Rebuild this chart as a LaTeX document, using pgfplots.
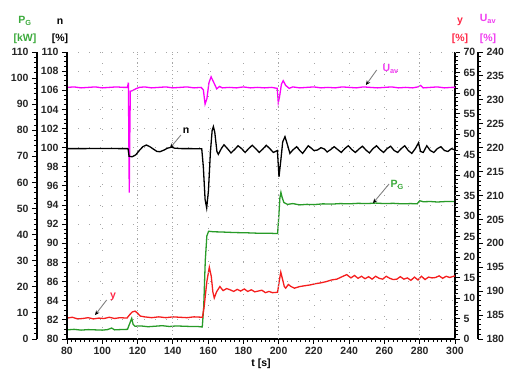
\documentclass[border=0pt]{standalone}
\usepackage{pgfplots}
\pgfplotsset{compat=1.18}
\usetikzlibrary{arrows.meta}
\usepackage{fontspec}
\setmainfont{Liberation Sans}
\definecolor{cPG}{RGB}{40,155,40}
\definecolor{cY}{RGB}{245,30,30}
\definecolor{cU}{RGB}{250,0,250}
\definecolor{cPGt}{RGB}{60,170,60}
\definecolor{cYt}{RGB}{255,40,70}
\definecolor{cUt}{RGB}{240,60,240}
\pgfplotsset{
  base/.style={
    scale only axis, width=388pt, height=287pt,
    at={(0pt,0pt)}, anchor=south west,
    xmin=80, xmax=300,
    tick align=outside,
    major tick length=5pt, minor tick length=3pt,
    every tick/.style={black, line width=0.9pt},
    tick label style={font=\fontsize{10.5}{12}\selectfont\bfseries, text=black!85},
    /pgf/number format/assume math mode=true,
    axis line style={-, line width=1.2pt},
    x axis line style={-}, y axis line style={-},
  },
}
\begin{document}
\begin{tikzpicture}
\useasboundingbox (-67pt,-35pt) rectangle (444pt,339pt);
% ---------- P_G axis ----------
\begin{axis}[base, ymin=0, ymax=110, ytick={0,10,...,110}, minor y tick num=4,
  axis y line*=left, axis y line shift=30pt, hide x axis]
\addplot[cPG, line width=1.3pt] coordinates {
(80,3.5) (84,3.7) (88,3.4) (92,3.6) (96,3.5) (100,3.4) (103,3.6) (105.3,4.2) (107,3.5) (110,3.6) (114.3,3.7) (115.3,5.5) (116.7,7.9) (117.5,5.6) (118.5,4.9) (122,5.0) (126,4.7) (130,4.9) (134,5.1) (138,4.8) (142,5.0) (146,4.9) (150,4.8) (154,4.8) (156.7,4.6) (157.5,12) (158.4,30) (159.3,39.5) (160.3,41.3) (163,41.1) (168,41.0) (175,40.8) (182,40.7) (190,40.5) (196,40.5) (199.4,40.4) (200.1,47) (200.7,54) (201.3,56.2) (202,54.2) (203,52.3) (205,51.6) (208,51.9) (212,51.4) (216,51.6) (220,51.5) (225,51.8) (230,51.7) (235,51.9) (240,51.8) (245,52.0) (250,51.9) (255,52.1) (260,51.9) (265,52.0) (270,51.8) (275,51.9) (278.5,51.8) (280,53.0) (282,52.6) (286,52.7) (290,52.5) (295,52.7) (300,52.7)
};
\end{axis}
% ---------- y axis ----------
\begin{axis}[base, ymin=0, ymax=70, ytick={0,5,...,70}, minor y tick num=4,
  axis y line*=right, hide x axis]
\addplot[cY, line width=1.3pt] coordinates {
(80,5.1) (83,5.3) (86,4.9) (89,5.0) (92,5.2) (95,4.9) (98,5.1) (101,5.0) (104,5.3) (107,5.0) (110,5.2) (114,5.1) (115.5,5.9) (117,6.6) (118.6,6.8) (120,6.3) (121.5,5.6) (124,5.4) (128,5.2) (132,5.4) (136,5.2) (140,5.4) (144,5.3) (148,5.2) (152,5.4) (156.8,5.3) (157.8,8) (159.3,14) (160.7,17.5) (161.8,15.3) (162.7,11.5) (163.5,10.0) (164.8,11.5) (166.7,12.8) (168.5,11.8) (170.5,12.3) (172.5,12.0) (174.5,11.6) (176.5,12.1) (178.5,11.7) (180.5,12.2) (182.5,11.6) (184.5,12.0) (186.5,11.5) (188.5,11.7) (190.5,11.9) (192.5,11.3) (194.5,11.6) (196.5,11.3) (199.4,11.4) (200.3,14) (201.2,16.3) (202.2,14.6) (203.2,12.8) (204,12.4) (205.5,13.3) (207,12.8) (209,12.4) (212,12.8) (215,13.0) (218,13.2) (221,13.5) (224,13.7) (227,14.0) (230,14.4) (233,14.6) (236,15.2) (238.6,15.7) (241,14.9) (243,15.5) (245,14.8) (247,15.3) (249,14.7) (251,15.2) (253,14.6) (255,15.3) (257,14.8) (259,14.6) (261,15.3) (263,14.8) (265,14.5) (267,14.6) (269,15.2) (271,14.6) (273,14.9) (275,14.3) (277,15.1) (279,14.4) (281,15.3) (283,14.5) (285,15.1) (287,14.9) (289,15.0) (291,15.4) (293,14.8) (295,15.3) (297,15.0) (300,15.4)
};
\end{axis}
% ---------- U_av axis ----------
\begin{axis}[base, ymin=180, ymax=240, ytick={180,185,...,240}, minor y tick num=4,
  axis y line*=right, axis y line shift=23pt, hide x axis]
\addplot[cU, line width=1.3pt] coordinates {
(80,232.6) (84,232.7) (88,232.5) (92,232.6) (96,232.7) (100,232.5) (104,232.6) (108,232.7) (112,232.6) (114.3,232.6) (114.8,233.6) (115.1,220) (115.3,210.6) (115.6,222) (115.9,231.8) (117,231.9) (119,232.3) (121,232.6) (124,232.7) (128,232.5) (132,232.6) (136,232.7) (140,232.5) (144,232.6) (148,232.7) (152,232.5) (156,232.6) (157.3,232.1) (158.3,229.1) (159.3,230.2) (160.5,233.6) (161.7,234.8) (163,233.8) (164.9,232.3) (166.5,232.8) (168,232.5) (172,232.6) (176,232.5) (180,232.7) (184,232.5) (188,232.6) (192,232.5) (196,232.6) (199.2,232.4) (199.8,229.4) (200.5,230.6) (201.6,233.3) (202.6,234.0) (204,233.0) (206,232.4) (208,232.7) (212,232.5) (216,232.6) (220,232.7) (224,232.5) (228,232.6) (232,232.5) (236,232.7) (240,232.6) (244,232.5) (248,232.7) (252,232.6) (256,232.5) (260,232.6) (264,232.7) (268,232.5) (272,232.6) (276,232.5) (279,232.7) (280.5,233.0) (282,232.5) (286,232.6) (290,232.7) (294,232.5) (298,232.6) (300,232.6)
};
\end{axis}
% ---------- n axis (main) ----------
\begin{axis}[base, ymin=80, ymax=110, ytick={80,82,...,110}, minor y tick num=3,
  xtick={80,100,...,300}, minor x tick num=7,
  axis x line*=bottom, axis y line*=left,
  grid=major, major grid style={gray!70, line width=0.8pt, dash pattern=on 1pt off 10pt},
  extra x ticks={120,140,200,280}, extra x tick labels={},
  extra x tick style={major tick length=0pt, grid=major, major grid style={gray!70, line width=0.8pt, dash pattern=on 1pt off 3pt}},
  xlabel={t [s]}, xlabel style={font=\fontsize{10.5}{12}\selectfont\bfseries, yshift=8pt},
  clip=false]
\addplot[black, line width=1.3pt] coordinates {
(80,99.9) (90,99.9) (100,99.92) (110,99.9) (114.6,99.9) (115.2,99.1) (117,99.05) (119,99.25) (121,99.7) (123,100.1) (125,100.28) (127,100.1) (129,99.85) (131,99.6) (132.7,99.58) (135,99.75) (137,99.95) (139.4,100.05) (141,99.95) (145,99.9) (150,99.9) (156.4,99.88) (157.3,98) (158.3,94.6) (159.2,93.7) (160.2,95.5) (161.3,99.5) (162.3,101.8) (163,102.2) (163.8,101.6) (165,99.6) (165.8,99.3) (167.5,99.9) (169,100.3) (171,99.9) (173,99.45) (175,99.8) (177,100.2) (179,99.9) (181,99.5) (183,99.9) (185,100.25) (187,99.9) (189,99.5) (191,99.85) (193,100.25) (195,99.9) (197,99.5) (199.3,99.7) (200.2,96.96) (201.2,98.6) (202.3,100.6) (203.6,101.15) (205,100.3) (206.4,99.4) (208,99.75) (210.2,100.1) (212,99.7) (213.6,99.4) (215.2,99.8) (216.8,100.2) (218.5,99.95) (220,99.7) (222,99.75) (224,100.0) (226,99.85) (227.5,99.55) (229.5,99.8) (231.5,100.1) (233.5,99.8) (235.5,99.5) (237.5,99.9) (239.5,100.2) (241.5,99.8) (243.5,99.5) (245.5,99.85) (247.5,100.15) (249.5,99.75) (251.5,99.45) (253.5,99.9) (255.5,100.2) (257.5,99.8) (259.5,99.5) (261.5,99.9) (263.5,100.15) (265.5,99.7) (267.5,99.5) (269.5,99.9) (271.5,100.2) (273.5,99.7) (275.5,99.4) (277.5,99.9) (279.3,100.5) (280.5,99.6) (282,99.5) (284,100.2) (286,99.7) (288,99.5) (290,99.9) (292,100.1) (294,99.7) (296,99.6) (298,99.9) (300,99.76)
};
% annotations
\draw[gray, line width=0.9pt, -{Stealth[black, length=4.5pt, width=4pt]}] (axis cs:255.6,108.12) -- (axis cs:249.5,106.55);
\node[text=cUt, font=\fontsize{10.5}{12}\selectfont\bfseries] at (axis cs:263.5,108.2) {U\textsubscript{av}};
\draw[gray, line width=0.9pt, -{Stealth[black, length=4.5pt, width=4pt]}] (axis cs:144.6,101.32) -- (axis cs:138.4,99.96);
\node[text=black, font=\fontsize{10.5}{12}\selectfont\bfseries] at (axis cs:147.5,101.8) {n};
\draw[gray, line width=0.9pt, -{Stealth[black, length=4.5pt, width=4pt]}] (axis cs:262.6,96.2) -- (axis cs:253.5,94.2);
\node[text=cPGt, font=\fontsize{10.5}{12}\selectfont\bfseries] at (axis cs:267.3,96.1) {P\textsubscript{G}};
\draw[gray, line width=0.9pt, -{Stealth[black, length=4.5pt, width=4pt]}] (axis cs:102.5,84.08) -- (axis cs:95.9,82.5);
\node[text=cYt, font=\fontsize{10.5}{12}\selectfont\bfseries] at (axis cs:106.1,84.4) {y};
\end{axis}
% axis titles
\begin{scope}[font=\fontsize{10.5}{12}\selectfont\bfseries]
\node[text=cPGt] at (-42pt,318pt) {P\textsubscript{G}};
\node[text=cPGt] at (-42pt,300pt) {[kW]};
\node[text=black] at (-7pt,317pt) {n};
\node[text=black] at (-7pt,300pt) {[\%]};
\node[text=cYt] at (393pt,317pt) {y};
\node[text=cYt] at (393pt,300pt) {[\%]};
\node[text=cUt] at (421pt,320pt) {U\textsubscript{av}};
\node[text=cUt] at (421pt,300pt) {[\%]};
\end{scope}
\end{tikzpicture}
\end{document}
